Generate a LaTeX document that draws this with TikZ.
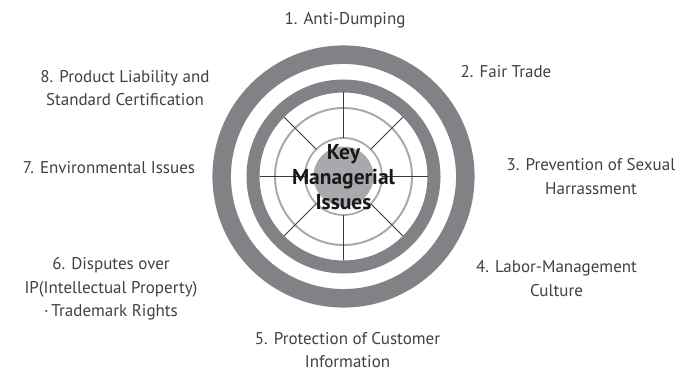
\documentclass[tikz,border=0pt]{standalone}
\usepackage{fontspec}
\setmainfont{PT Sans}
\usetikzlibrary{calc}
\definecolor{ringdark}{HTML}{808285}
\definecolor{ringlight}{HTML}{A7A9AC}
\definecolor{labeltext}{HTML}{414042}
\definecolor{spoke}{HTML}{3A3A3C}
\tikzset{
  lbl/.style={font=\fontsize{17}{23.5}\selectfont, text=labeltext, align=center, inner sep=0pt},
  keytext/.style={font=\fontsize{21.5}{25}\selectfont\bfseries, text=black!90, align=center, inner sep=0pt},
  thickring/.style={draw=ringdark},
  thinring/.style={draw=ringlight, line width=2pt},
  spokeline/.style={draw=spoke, line width=0.9pt}
}
\begin{document}
\begin{tikzpicture}[x=1pt,y=-1pt]
\useasboundingbox (0,0) rectangle (683,371);
\coordinate (c) at (343.5,176.5);
% rings
\draw[thickring, line width=18.5pt] (c) circle (121.8);
\draw[thickring, line width=13pt] (c) circle (90.5);
\draw[thinring] (c) circle (68.5);
\draw[thinring, line width=1.8pt] (c) circle (38.5);
\fill[ringlight] (c) circle (30);
% spokes
\foreach \a in {0,45,...,315} {
  \draw[spokeline] ($(c)+(\a:38.5)$) -- ($(c)+(\a:84)$);
}
% centre text
\node[keytext] (key) at (343.5,177) {Key\\Managerial\\Issues};
% labels
\node[lbl] (l1) at (345,20) {1. Anti-Dumping};
\node[lbl] (l2) at (506,72) {2. Fair Trade};
\node[lbl] (l3) at (591,176.5) {3. Prevention of Sexual\\Harrassment};
\node[lbl] (l4) at (556.5,278.5) {4. Labor-Management\\Culture};
\node[lbl] (l5) at (347.5,350) {5. Protection of Customer\\Information};
\node[lbl] (l6) at (111,289) {6. Disputes over\\IP(Intellectual Property)\\{\textperiodcentered}\,Trademark Rights};
\node[lbl] (l7) at (109,168) {7. Environmental Issues};
\node[lbl] (l8) at (125,88) {8. Product Liability and\\Standard Certification};
\end{tikzpicture}
\end{document}
